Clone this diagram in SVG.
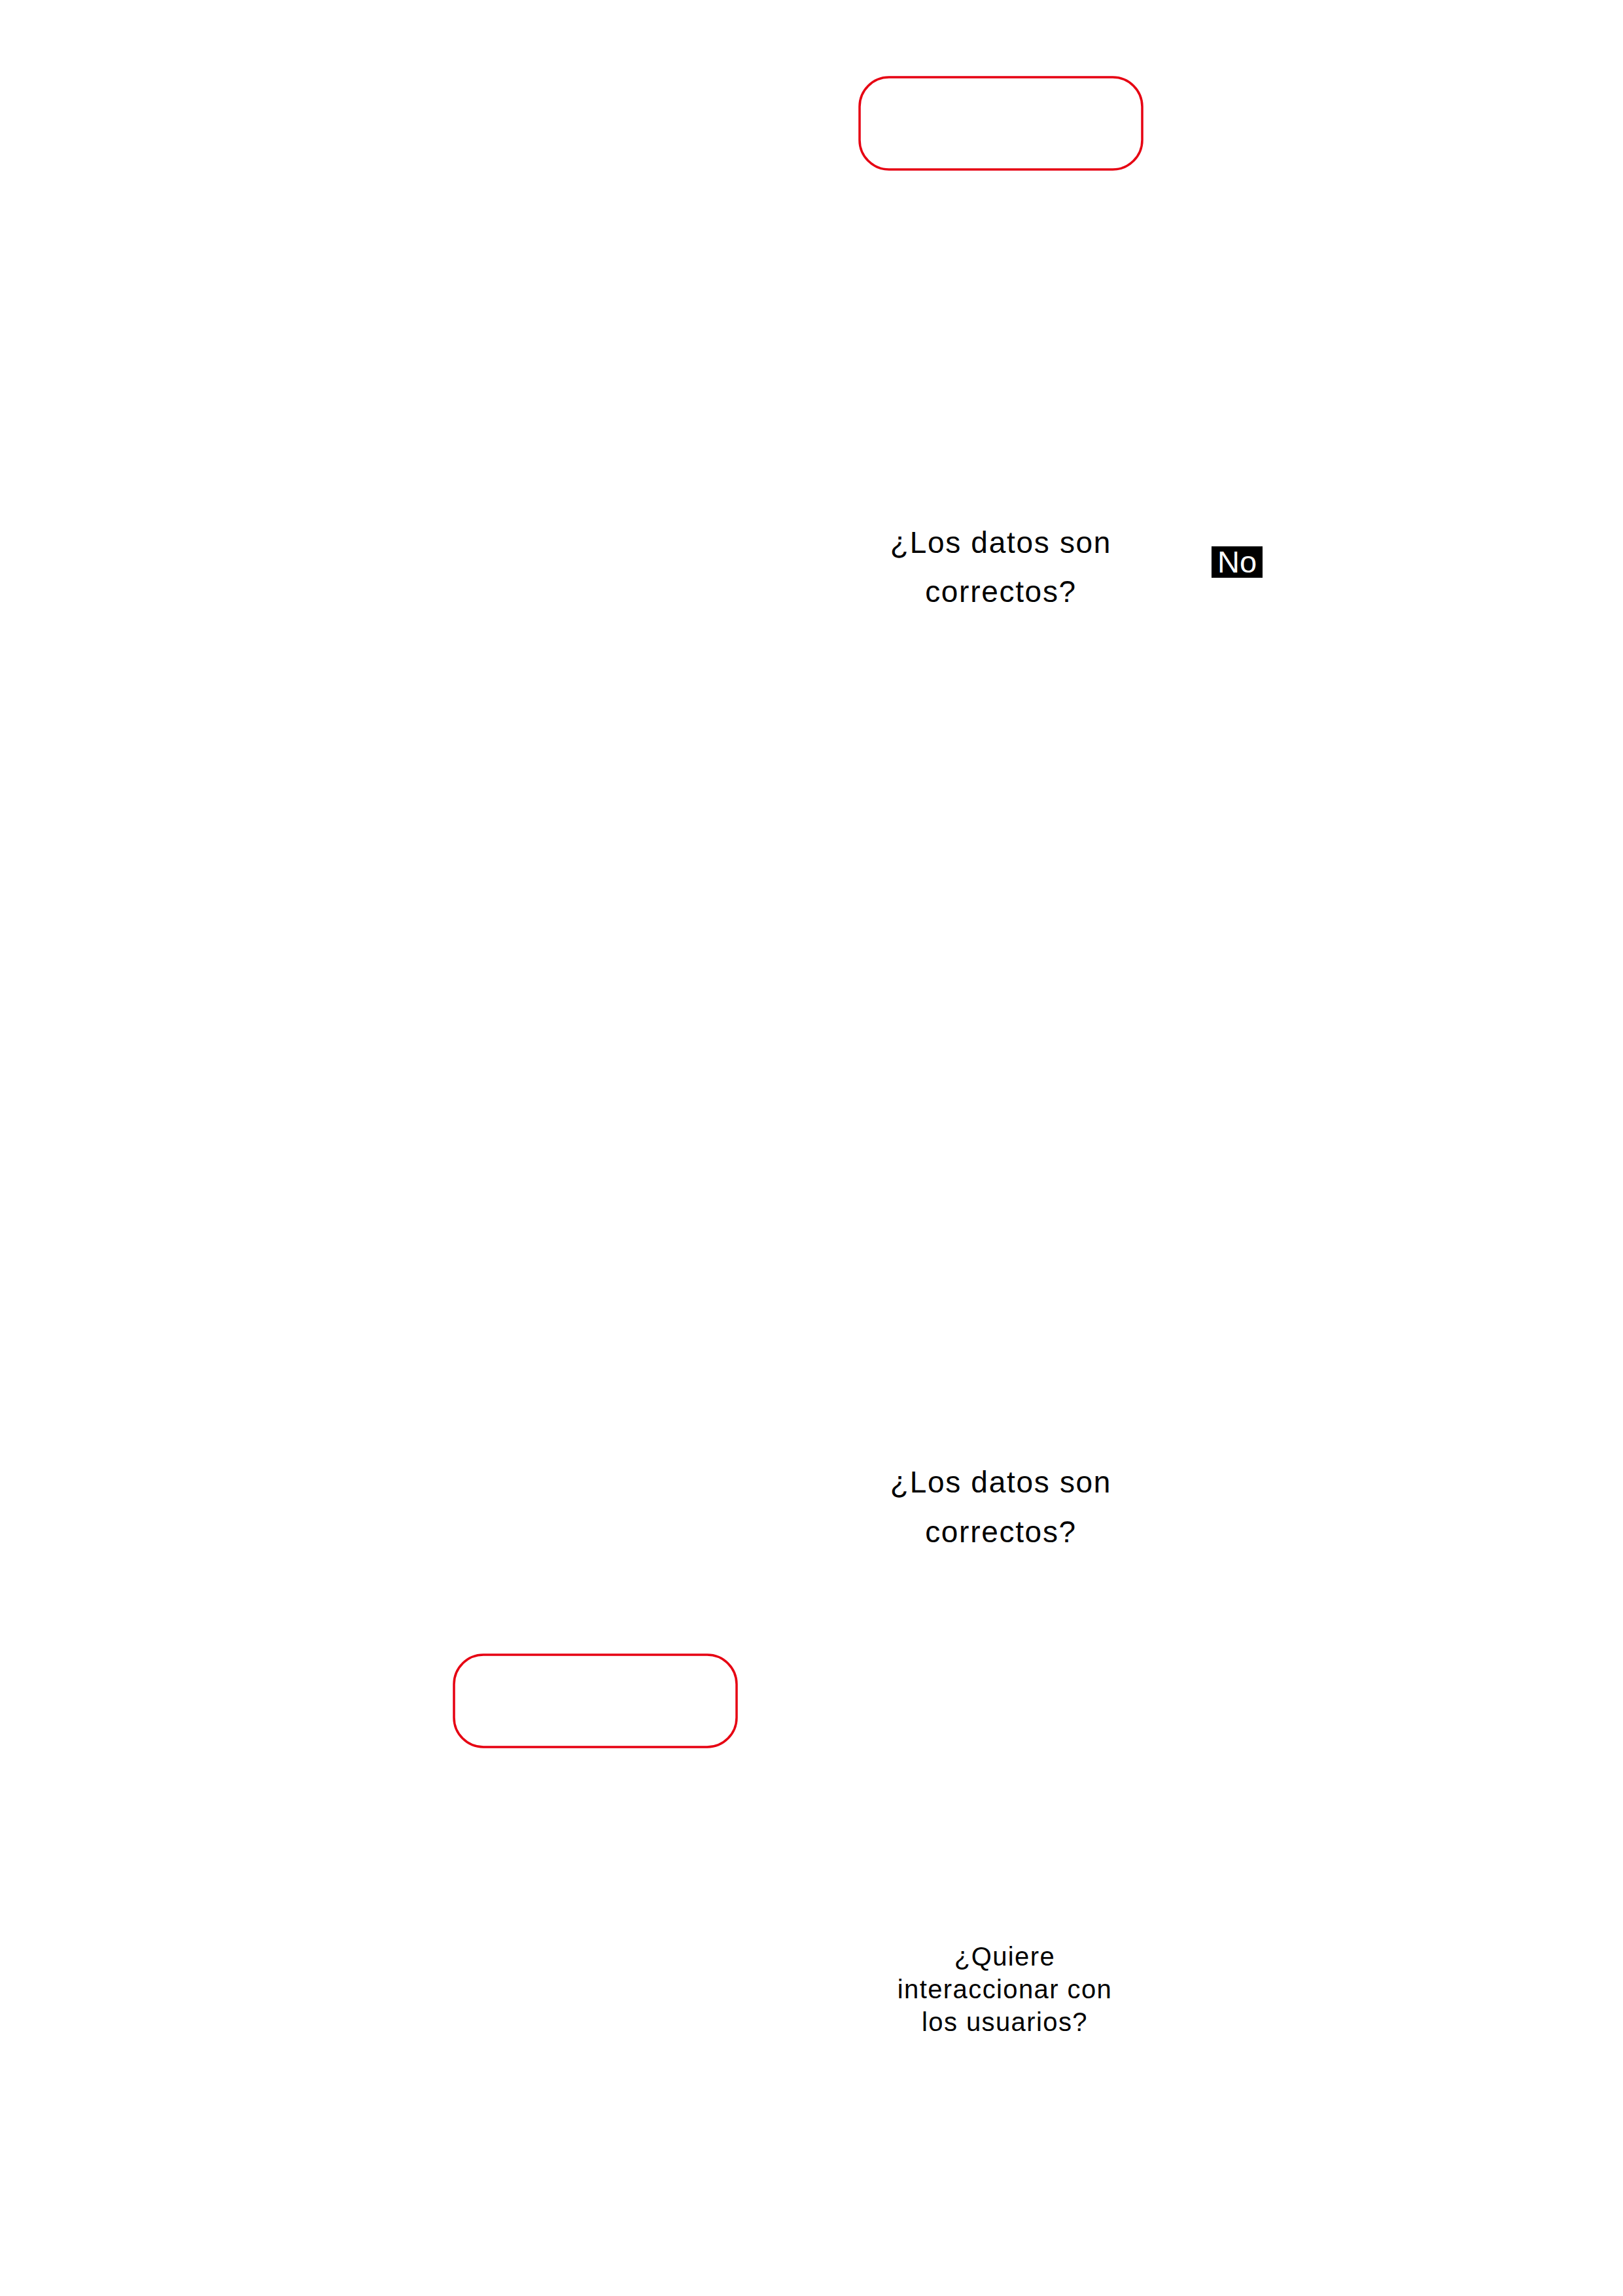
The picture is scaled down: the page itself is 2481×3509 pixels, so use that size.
<svg xmlns="http://www.w3.org/2000/svg" width="2481" height="3509" viewBox="0 0 2481 3509">
<style>
.term{fill:none;stroke:#E60012;stroke-width:3.5}
.q{font-family:"Liberation Sans",Arial,sans-serif;fill:#000;text-anchor:middle}
.q1{font-size:46px;letter-spacing:1.7px}
.q3{font-size:40px;letter-spacing:1.4px}
.lbl{font-family:"Liberation Sans",Arial,sans-serif;font-size:47px;fill:#fff;text-anchor:middle}
</style>
<rect width="2481" height="3509" fill="#fff"/>
<g id="connectors"></g>
<g id="start">
<rect class="term" x="1314" y="118" width="432" height="141" rx="45" ry="45"/>
</g>
<g id="decision1">
<text class="q q1" x="1530" y="845">¿Los datos son</text>
<text class="q q1" x="1530" y="920">correctos?</text>
</g>
<g id="label-no">
<rect x="1852" y="835" width="78" height="48" fill="#000"/>
<text class="lbl" x="1891" y="875">No</text>
</g>
<g id="decision2">
<text class="q q1" x="1530" y="2281">¿Los datos son</text>
<text class="q q1" x="1530" y="2357">correctos?</text>
</g>
<g id="terminal2">
<rect class="term" x="694" y="2529" width="432" height="141" rx="45" ry="45"/>
</g>
<g id="decision3">
<text class="q q3" x="1536" y="3004">¿Quiere</text>
<text class="q q3" x="1536" y="3054">interaccionar con</text>
<text class="q q3" x="1536" y="3104">los usuarios?</text>
</g>
</svg>
